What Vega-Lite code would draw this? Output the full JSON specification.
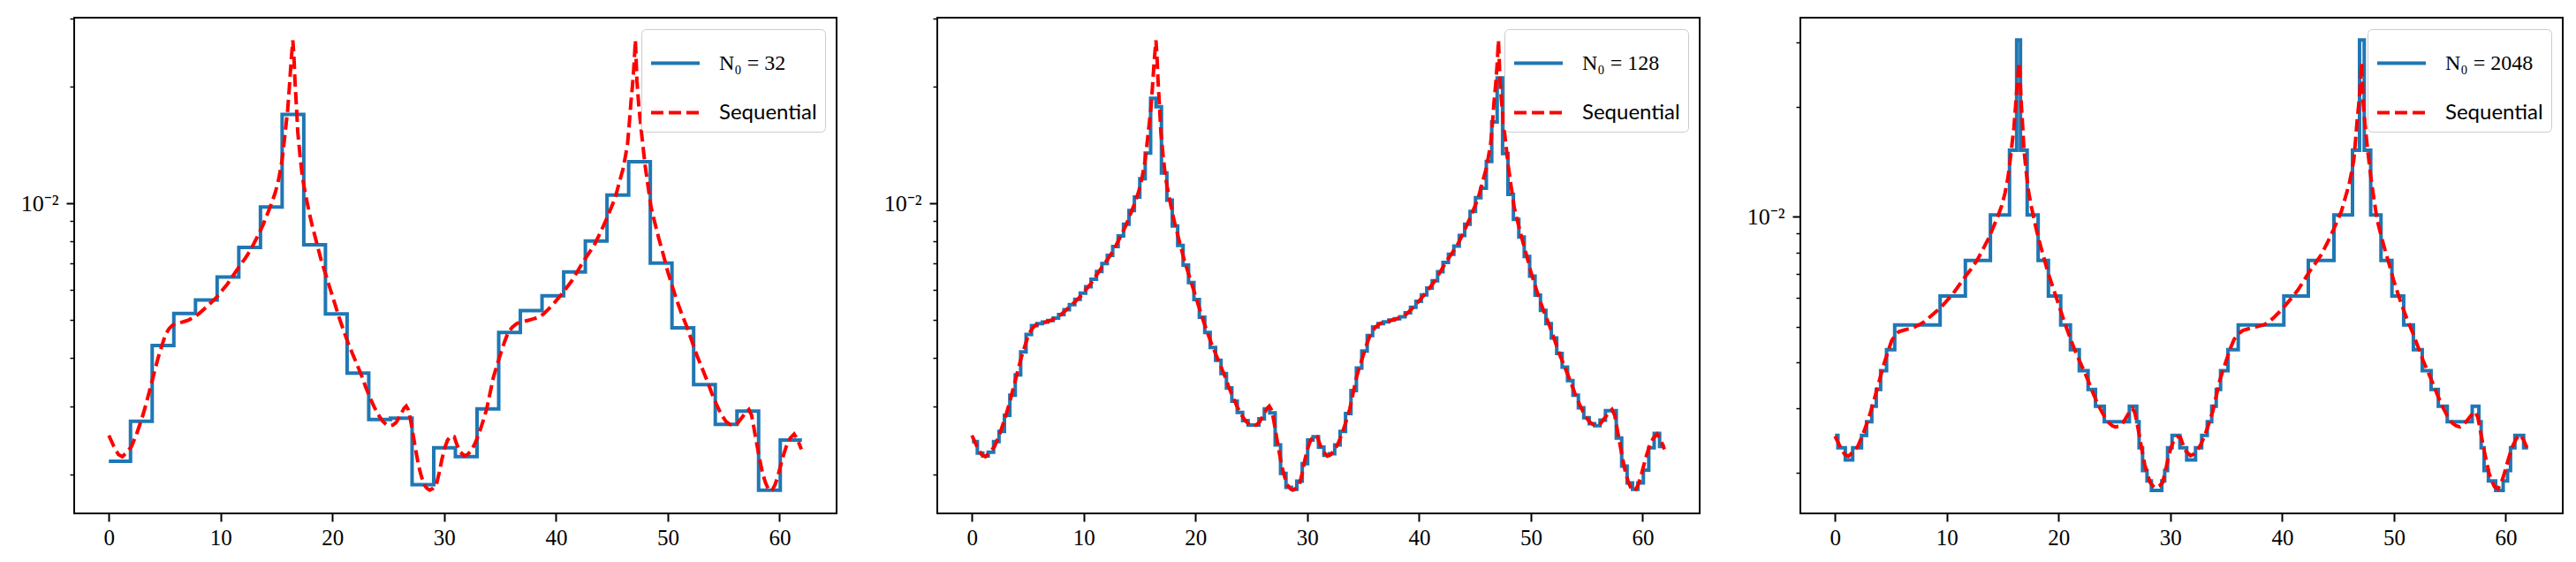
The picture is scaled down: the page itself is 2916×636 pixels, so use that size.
{
  "$schema": "https://vega.github.io/schema/vega-lite/v6.json",
  "background": "white",
  "padding": {"left": 22, "top": 19, "right": 5, "bottom": 5},
  "spacing": 114,
  "bounds": "flush",
  "config": {
    "view": {"stroke": "black", "strokeWidth": 2},
    "axis": {"domain": false, "grid": false, "labelFont": "Liberation Serif", "labelFontSize": 25, "labelColor": "black", "tickColor": "black", "title": null, "labelOverlap": false}
  },
  "datasets": {
    "seq": [
      {"x":0.0,"v":0.00252,"s":"Sequential"},{"x":0.45,"v":0.00236,"s":"Sequential"},{"x":0.85,"v":0.00225,"s":"Sequential"},{"x":1.2,"v":0.00222,"s":"Sequential"},{"x":1.6,"v":0.00228,"s":"Sequential"},{"x":2.03,"v":0.00236,"s":"Sequential"},{"x":2.5,"v":0.00255,"s":"Sequential"},{"x":2.96,"v":0.00279,"s":"Sequential"},{"x":3.35,"v":0.00305,"s":"Sequential"},{"x":3.74,"v":0.00337,"s":"Sequential"},{"x":4.1,"v":0.0037,"s":"Sequential"},{"x":4.4,"v":0.00399,"s":"Sequential"},{"x":4.75,"v":0.0043,"s":"Sequential"},{"x":5.06,"v":0.00459,"s":"Sequential"},{"x":5.4,"v":0.00476,"s":"Sequential"},{"x":5.72,"v":0.00486,"s":"Sequential"},{"x":6.2,"v":0.00491,"s":"Sequential"},{"x":6.64,"v":0.00495,"s":"Sequential"},{"x":7.1,"v":0.005,"s":"Sequential"},{"x":7.56,"v":0.00508,"s":"Sequential"},{"x":8.0,"v":0.00518,"s":"Sequential"},{"x":8.48,"v":0.00533,"s":"Sequential"},{"x":9.0,"v":0.0055,"s":"Sequential"},{"x":9.54,"v":0.00569,"s":"Sequential"},{"x":10.06,"v":0.00593,"s":"Sequential"},{"x":10.59,"v":0.00619,"s":"Sequential"},{"x":11.1,"v":0.00651,"s":"Sequential"},{"x":11.65,"v":0.00687,"s":"Sequential"},{"x":12.2,"v":0.00722,"s":"Sequential"},{"x":12.7,"v":0.00761,"s":"Sequential"},{"x":13.2,"v":0.00812,"s":"Sequential"},{"x":13.75,"v":0.00875,"s":"Sequential"},{"x":14.15,"v":0.00935,"s":"Sequential"},{"x":14.54,"v":0.00999,"s":"Sequential"},{"x":14.9,"v":0.0107,"s":"Sequential"},{"x":15.2,"v":0.01159,"s":"Sequential"},{"x":15.45,"v":0.0127,"s":"Sequential"},{"x":15.6,"v":0.01373,"s":"Sequential"},{"x":15.8,"v":0.0155,"s":"Sequential"},{"x":16.0,"v":0.0175,"s":"Sequential"},{"x":16.15,"v":0.02,"s":"Sequential"},{"x":16.3,"v":0.0232,"s":"Sequential"},{"x":16.46,"v":0.0264,"s":"Sequential"},{"x":16.56,"v":0.0238,"s":"Sequential"},{"x":16.65,"v":0.0207,"s":"Sequential"},{"x":16.78,"v":0.0178,"s":"Sequential"},{"x":16.9,"v":0.0153,"s":"Sequential"},{"x":17.1,"v":0.0133,"s":"Sequential"},{"x":17.3,"v":0.0118,"s":"Sequential"},{"x":17.5,"v":0.0109,"s":"Sequential"},{"x":17.7,"v":0.0102,"s":"Sequential"},{"x":17.95,"v":0.0094,"s":"Sequential"},{"x":18.2,"v":0.00875,"s":"Sequential"},{"x":18.6,"v":0.0079,"s":"Sequential"},{"x":19.0,"v":0.00713,"s":"Sequential"},{"x":19.4,"v":0.00655,"s":"Sequential"},{"x":19.8,"v":0.00602,"s":"Sequential"},{"x":20.2,"v":0.00553,"s":"Sequential"},{"x":20.6,"v":0.00508,"s":"Sequential"},{"x":21.0,"v":0.0047,"s":"Sequential"},{"x":21.4,"v":0.00437,"s":"Sequential"},{"x":21.8,"v":0.00409,"s":"Sequential"},{"x":22.2,"v":0.00384,"s":"Sequential"},{"x":22.6,"v":0.0036,"s":"Sequential"},{"x":22.96,"v":0.00337,"s":"Sequential"},{"x":23.35,"v":0.00316,"s":"Sequential"},{"x":23.75,"v":0.00298,"s":"Sequential"},{"x":24.1,"v":0.00285,"s":"Sequential"},{"x":24.5,"v":0.00274,"s":"Sequential"},{"x":24.8,"v":0.00269,"s":"Sequential"},{"x":25.07,"v":0.00267,"s":"Sequential"},{"x":25.4,"v":0.00268,"s":"Sequential"},{"x":25.7,"v":0.00272,"s":"Sequential"},{"x":26.1,"v":0.00285,"s":"Sequential"},{"x":26.4,"v":0.00296,"s":"Sequential"},{"x":26.6,"v":0.003,"s":"Sequential"},{"x":26.8,"v":0.00293,"s":"Sequential"},{"x":26.95,"v":0.0028,"s":"Sequential"},{"x":27.1,"v":0.00265,"s":"Sequential"},{"x":27.3,"v":0.00245,"s":"Sequential"},{"x":27.5,"v":0.00227,"s":"Sequential"},{"x":27.7,"v":0.00211,"s":"Sequential"},{"x":27.95,"v":0.00198,"s":"Sequential"},{"x":28.2,"v":0.00188,"s":"Sequential"},{"x":28.45,"v":0.00184,"s":"Sequential"},{"x":28.7,"v":0.00182,"s":"Sequential"},{"x":29.0,"v":0.00184,"s":"Sequential"},{"x":29.3,"v":0.00188,"s":"Sequential"},{"x":29.55,"v":0.00202,"s":"Sequential"},{"x":29.8,"v":0.00219,"s":"Sequential"},{"x":30.05,"v":0.00234,"s":"Sequential"},{"x":30.3,"v":0.00245,"s":"Sequential"},{"x":30.6,"v":0.00251,"s":"Sequential"},{"x":30.9,"v":0.0025,"s":"Sequential"},{"x":31.1,"v":0.0024,"s":"Sequential"},{"x":31.4,"v":0.00229,"s":"Sequential"},{"x":31.8,"v":0.00223,"s":"Sequential"},{"x":32.1,"v":0.00225,"s":"Sequential"},{"x":32.4,"v":0.0023,"s":"Sequential"},{"x":32.75,"v":0.0024,"s":"Sequential"},{"x":33.1,"v":0.00254,"s":"Sequential"},{"x":33.45,"v":0.00273,"s":"Sequential"},{"x":33.8,"v":0.00295,"s":"Sequential"},{"x":34.1,"v":0.00324,"s":"Sequential"},{"x":34.4,"v":0.00356,"s":"Sequential"},{"x":34.75,"v":0.00385,"s":"Sequential"},{"x":35.1,"v":0.00414,"s":"Sequential"},{"x":35.4,"v":0.0044,"s":"Sequential"},{"x":35.7,"v":0.00463,"s":"Sequential"},{"x":36.1,"v":0.0048,"s":"Sequential"},{"x":36.5,"v":0.0049,"s":"Sequential"},{"x":37.0,"v":0.00495,"s":"Sequential"},{"x":37.45,"v":0.00499,"s":"Sequential"},{"x":37.9,"v":0.00503,"s":"Sequential"},{"x":38.4,"v":0.00508,"s":"Sequential"},{"x":38.85,"v":0.00518,"s":"Sequential"},{"x":39.3,"v":0.00533,"s":"Sequential"},{"x":39.8,"v":0.00552,"s":"Sequential"},{"x":40.3,"v":0.00574,"s":"Sequential"},{"x":40.85,"v":0.00601,"s":"Sequential"},{"x":41.4,"v":0.00631,"s":"Sequential"},{"x":41.9,"v":0.00667,"s":"Sequential"},{"x":42.4,"v":0.00706,"s":"Sequential"},{"x":42.95,"v":0.00745,"s":"Sequential"},{"x":43.5,"v":0.00789,"s":"Sequential"},{"x":44.0,"v":0.00845,"s":"Sequential"},{"x":44.5,"v":0.0091,"s":"Sequential"},{"x":44.9,"v":0.0097,"s":"Sequential"},{"x":45.3,"v":0.01036,"s":"Sequential"},{"x":45.65,"v":0.0113,"s":"Sequential"},{"x":45.99,"v":0.01227,"s":"Sequential"},{"x":46.2,"v":0.0132,"s":"Sequential"},{"x":46.4,"v":0.01425,"s":"Sequential"},{"x":46.55,"v":0.016,"s":"Sequential"},{"x":46.7,"v":0.0182,"s":"Sequential"},{"x":46.85,"v":0.0203,"s":"Sequential"},{"x":46.98,"v":0.0228,"s":"Sequential"},{"x":47.1,"v":0.0264,"s":"Sequential"},{"x":47.17,"v":0.0235,"s":"Sequential"},{"x":47.24,"v":0.0207,"s":"Sequential"},{"x":47.4,"v":0.018,"s":"Sequential"},{"x":47.6,"v":0.0157,"s":"Sequential"},{"x":47.8,"v":0.0139,"s":"Sequential"},{"x":47.98,"v":0.0125,"s":"Sequential"},{"x":48.25,"v":0.011,"s":"Sequential"},{"x":48.5,"v":0.0098,"s":"Sequential"},{"x":48.85,"v":0.0089,"s":"Sequential"},{"x":49.2,"v":0.00812,"s":"Sequential"},{"x":49.6,"v":0.00738,"s":"Sequential"},{"x":49.96,"v":0.00673,"s":"Sequential"},{"x":50.35,"v":0.00618,"s":"Sequential"},{"x":50.75,"v":0.00569,"s":"Sequential"},{"x":51.2,"v":0.00523,"s":"Sequential"},{"x":51.7,"v":0.00481,"s":"Sequential"},{"x":52.15,"v":0.00442,"s":"Sequential"},{"x":52.6,"v":0.00406,"s":"Sequential"},{"x":53.05,"v":0.00377,"s":"Sequential"},{"x":53.5,"v":0.0035,"s":"Sequential"},{"x":53.95,"v":0.00323,"s":"Sequential"},{"x":54.4,"v":0.00301,"s":"Sequential"},{"x":54.8,"v":0.00285,"s":"Sequential"},{"x":55.2,"v":0.00274,"s":"Sequential"},{"x":55.55,"v":0.00269,"s":"Sequential"},{"x":55.9,"v":0.00267,"s":"Sequential"},{"x":56.2,"v":0.0027,"s":"Sequential"},{"x":56.5,"v":0.00277,"s":"Sequential"},{"x":56.9,"v":0.00287,"s":"Sequential"},{"x":57.25,"v":0.00294,"s":"Sequential"},{"x":57.5,"v":0.00284,"s":"Sequential"},{"x":57.7,"v":0.00264,"s":"Sequential"},{"x":57.9,"v":0.00245,"s":"Sequential"},{"x":58.1,"v":0.00228,"s":"Sequential"},{"x":58.3,"v":0.00213,"s":"Sequential"},{"x":58.5,"v":0.002,"s":"Sequential"},{"x":58.75,"v":0.0019,"s":"Sequential"},{"x":59.0,"v":0.00183,"s":"Sequential"},{"x":59.3,"v":0.00181,"s":"Sequential"},{"x":59.6,"v":0.00188,"s":"Sequential"},{"x":59.85,"v":0.00198,"s":"Sequential"},{"x":60.1,"v":0.00211,"s":"Sequential"},{"x":60.35,"v":0.00224,"s":"Sequential"},{"x":60.6,"v":0.00236,"s":"Sequential"},{"x":60.95,"v":0.00248,"s":"Sequential"},{"x":61.3,"v":0.00254,"s":"Sequential"},{"x":61.6,"v":0.00246,"s":"Sequential"},{"x":61.95,"v":0.00232,"s":"Sequential"}
    ],
    "b32": [
      {"x":0,"v":0.00216,"s":"N₀ = 32"},{"x":1.9375,"v":0.00274,"s":"N₀ = 32"},{"x":3.875,"v":0.0043,"s":"N₀ = 32"},{"x":5.8125,"v":0.0052,"s":"N₀ = 32"},{"x":7.75,"v":0.00564,"s":"N₀ = 32"},{"x":9.6875,"v":0.00646,"s":"N₀ = 32"},{"x":11.625,"v":0.00771,"s":"N₀ = 32"},{"x":13.5625,"v":0.0098,"s":"N₀ = 32"},{"x":15.5,"v":0.017,"s":"N₀ = 32"},{"x":17.4375,"v":0.00783,"s":"N₀ = 32"},{"x":19.375,"v":0.00519,"s":"N₀ = 32"},{"x":21.3125,"v":0.00365,"s":"N₀ = 32"},{"x":23.25,"v":0.00277,"s":"N₀ = 32"},{"x":25.1875,"v":0.00279,"s":"N₀ = 32"},{"x":27.125,"v":0.00188,"s":"N₀ = 32"},{"x":29.0625,"v":0.00234,"s":"N₀ = 32"},{"x":31.0,"v":0.00222,"s":"N₀ = 32"},{"x":32.9375,"v":0.00295,"s":"N₀ = 32"},{"x":34.875,"v":0.00465,"s":"N₀ = 32"},{"x":36.8125,"v":0.00529,"s":"N₀ = 32"},{"x":38.75,"v":0.00578,"s":"N₀ = 32"},{"x":40.6875,"v":0.00666,"s":"N₀ = 32"},{"x":42.625,"v":0.008,"s":"N₀ = 32"},{"x":44.5625,"v":0.01052,"s":"N₀ = 32"},{"x":46.5,"v":0.01282,"s":"N₀ = 32"},{"x":48.4375,"v":0.00702,"s":"N₀ = 32"},{"x":50.375,"v":0.00478,"s":"N₀ = 32"},{"x":52.3125,"v":0.00341,"s":"N₀ = 32"},{"x":54.25,"v":0.00269,"s":"N₀ = 32"},{"x":56.1875,"v":0.00291,"s":"N₀ = 32"},{"x":58.125,"v":0.00182,"s":"N₀ = 32"},{"x":60.0625,"v":0.00245,"s":"N₀ = 32"},{"x":62,"v":0.00245,"s":"N₀ = 32"}
    ],
    "b128": [
      {"x":0,"v":0.00243,"s":"N₀ = 128"},{"x":0.4844,"v":0.00227,"s":"N₀ = 128"},{"x":0.9688,"v":0.00223,"s":"N₀ = 128"},{"x":1.4531,"v":0.00228,"s":"N₀ = 128"},{"x":1.9375,"v":0.00243,"s":"N₀ = 128"},{"x":2.4219,"v":0.00258,"s":"N₀ = 128"},{"x":2.9063,"v":0.00284,"s":"N₀ = 128"},{"x":3.3906,"v":0.0032,"s":"N₀ = 128"},{"x":3.875,"v":0.00361,"s":"N₀ = 128"},{"x":4.3594,"v":0.00414,"s":"N₀ = 128"},{"x":4.8438,"v":0.00459,"s":"N₀ = 128"},{"x":5.3281,"v":0.00484,"s":"N₀ = 128"},{"x":5.8125,"v":0.0049,"s":"N₀ = 128"},{"x":6.2969,"v":0.00494,"s":"N₀ = 128"},{"x":6.7813,"v":0.00499,"s":"N₀ = 128"},{"x":7.2656,"v":0.00506,"s":"N₀ = 128"},{"x":7.75,"v":0.00517,"s":"N₀ = 128"},{"x":8.2344,"v":0.00532,"s":"N₀ = 128"},{"x":8.7188,"v":0.00548,"s":"N₀ = 128"},{"x":9.2031,"v":0.00566,"s":"N₀ = 128"},{"x":9.6875,"v":0.00587,"s":"N₀ = 128"},{"x":10.1719,"v":0.0061,"s":"N₀ = 128"},{"x":10.6563,"v":0.00638,"s":"N₀ = 128"},{"x":11.1406,"v":0.00668,"s":"N₀ = 128"},{"x":11.625,"v":0.007,"s":"N₀ = 128"},{"x":12.1094,"v":0.00735,"s":"N₀ = 128"},{"x":12.5938,"v":0.00775,"s":"N₀ = 128"},{"x":13.0781,"v":0.00825,"s":"N₀ = 128"},{"x":13.5625,"v":0.00885,"s":"N₀ = 128"},{"x":14.0469,"v":0.0096,"s":"N₀ = 128"},{"x":14.5313,"v":0.0104,"s":"N₀ = 128"},{"x":15.0156,"v":0.0116,"s":"N₀ = 128"},{"x":15.5,"v":0.0135,"s":"N₀ = 128"},{"x":15.9844,"v":0.0187,"s":"N₀ = 128"},{"x":16.4688,"v":0.0178,"s":"N₀ = 128"},{"x":16.9531,"v":0.012,"s":"N₀ = 128"},{"x":17.4375,"v":0.0102,"s":"N₀ = 128"},{"x":17.9219,"v":0.00875,"s":"N₀ = 128"},{"x":18.4063,"v":0.0078,"s":"N₀ = 128"},{"x":18.8906,"v":0.00694,"s":"N₀ = 128"},{"x":19.375,"v":0.00625,"s":"N₀ = 128"},{"x":19.8594,"v":0.00565,"s":"N₀ = 128"},{"x":20.3438,"v":0.00509,"s":"N₀ = 128"},{"x":20.8281,"v":0.00465,"s":"N₀ = 128"},{"x":21.3125,"v":0.00425,"s":"N₀ = 128"},{"x":21.7969,"v":0.00394,"s":"N₀ = 128"},{"x":22.2813,"v":0.00364,"s":"N₀ = 128"},{"x":22.7656,"v":0.00334,"s":"N₀ = 128"},{"x":23.25,"v":0.00309,"s":"N₀ = 128"},{"x":23.7344,"v":0.00289,"s":"N₀ = 128"},{"x":24.2188,"v":0.00275,"s":"N₀ = 128"},{"x":24.7031,"v":0.00268,"s":"N₀ = 128"},{"x":25.1875,"v":0.00268,"s":"N₀ = 128"},{"x":25.6719,"v":0.00278,"s":"N₀ = 128"},{"x":26.1563,"v":0.00295,"s":"N₀ = 128"},{"x":26.6406,"v":0.00288,"s":"N₀ = 128"},{"x":27.125,"v":0.00238,"s":"N₀ = 128"},{"x":27.6094,"v":0.00201,"s":"N₀ = 128"},{"x":28.0938,"v":0.00185,"s":"N₀ = 128"},{"x":28.5781,"v":0.00183,"s":"N₀ = 128"},{"x":29.0625,"v":0.00192,"s":"N₀ = 128"},{"x":29.5469,"v":0.00213,"s":"N₀ = 128"},{"x":30.0313,"v":0.00245,"s":"N₀ = 128"},{"x":30.5156,"v":0.0025,"s":"N₀ = 128"},{"x":31.0,"v":0.00235,"s":"N₀ = 128"},{"x":31.4844,"v":0.00224,"s":"N₀ = 128"},{"x":31.9688,"v":0.00226,"s":"N₀ = 128"},{"x":32.4531,"v":0.00238,"s":"N₀ = 128"},{"x":32.9375,"v":0.00258,"s":"N₀ = 128"},{"x":33.4219,"v":0.00287,"s":"N₀ = 128"},{"x":33.9063,"v":0.00329,"s":"N₀ = 128"},{"x":34.3906,"v":0.00376,"s":"N₀ = 128"},{"x":34.875,"v":0.00416,"s":"N₀ = 128"},{"x":35.3594,"v":0.00456,"s":"N₀ = 128"},{"x":35.8438,"v":0.0048,"s":"N₀ = 128"},{"x":36.3281,"v":0.0049,"s":"N₀ = 128"},{"x":36.8125,"v":0.00495,"s":"N₀ = 128"},{"x":37.2969,"v":0.005,"s":"N₀ = 128"},{"x":37.7813,"v":0.00504,"s":"N₀ = 128"},{"x":38.2656,"v":0.0051,"s":"N₀ = 128"},{"x":38.75,"v":0.00522,"s":"N₀ = 128"},{"x":39.2344,"v":0.0054,"s":"N₀ = 128"},{"x":39.7188,"v":0.00559,"s":"N₀ = 128"},{"x":40.2031,"v":0.00581,"s":"N₀ = 128"},{"x":40.6875,"v":0.00605,"s":"N₀ = 128"},{"x":41.1719,"v":0.00632,"s":"N₀ = 128"},{"x":41.6563,"v":0.00667,"s":"N₀ = 128"},{"x":42.1406,"v":0.00705,"s":"N₀ = 128"},{"x":42.625,"v":0.0074,"s":"N₀ = 128"},{"x":43.1094,"v":0.00777,"s":"N₀ = 128"},{"x":43.5938,"v":0.00827,"s":"N₀ = 128"},{"x":44.0781,"v":0.00885,"s":"N₀ = 128"},{"x":44.5625,"v":0.00955,"s":"N₀ = 128"},{"x":45.0469,"v":0.01035,"s":"N₀ = 128"},{"x":45.5313,"v":0.01096,"s":"N₀ = 128"},{"x":46.0156,"v":0.01285,"s":"N₀ = 128"},{"x":46.5,"v":0.01625,"s":"N₀ = 128"},{"x":46.9844,"v":0.0211,"s":"N₀ = 128"},{"x":47.4688,"v":0.01346,"s":"N₀ = 128"},{"x":47.9531,"v":0.01056,"s":"N₀ = 128"},{"x":48.4375,"v":0.0091,"s":"N₀ = 128"},{"x":48.9219,"v":0.0082,"s":"N₀ = 128"},{"x":49.4063,"v":0.0073,"s":"N₀ = 128"},{"x":49.8906,"v":0.0065,"s":"N₀ = 128"},{"x":50.375,"v":0.0058,"s":"N₀ = 128"},{"x":50.8594,"v":0.0053,"s":"N₀ = 128"},{"x":51.3438,"v":0.0049,"s":"N₀ = 128"},{"x":51.8281,"v":0.0045,"s":"N₀ = 128"},{"x":52.3125,"v":0.0041,"s":"N₀ = 128"},{"x":52.7969,"v":0.00378,"s":"N₀ = 128"},{"x":53.2813,"v":0.00349,"s":"N₀ = 128"},{"x":53.7656,"v":0.0032,"s":"N₀ = 128"},{"x":54.25,"v":0.00297,"s":"N₀ = 128"},{"x":54.7344,"v":0.0028,"s":"N₀ = 128"},{"x":55.2188,"v":0.0027,"s":"N₀ = 128"},{"x":55.7031,"v":0.00267,"s":"N₀ = 128"},{"x":56.1875,"v":0.00276,"s":"N₀ = 128"},{"x":56.6719,"v":0.00292,"s":"N₀ = 128"},{"x":57.1563,"v":0.00292,"s":"N₀ = 128"},{"x":57.6406,"v":0.00248,"s":"N₀ = 128"},{"x":58.125,"v":0.0021,"s":"N₀ = 128"},{"x":58.6094,"v":0.0019,"s":"N₀ = 128"},{"x":59.0938,"v":0.00183,"s":"N₀ = 128"},{"x":59.5781,"v":0.0019,"s":"N₀ = 128"},{"x":60.0625,"v":0.00205,"s":"N₀ = 128"},{"x":60.5469,"v":0.00234,"s":"N₀ = 128"},{"x":61.0313,"v":0.00255,"s":"N₀ = 128"},{"x":61.5156,"v":0.00236,"s":"N₀ = 128"},{"x":62,"v":0.00236,"s":"N₀ = 128"}
    ],
    "b2048": [
      {"x":0,"v":0.00253,"s":"N₀ = 2048"},{"x":0.26,"v":0.00234,"s":"N₀ = 2048"},{"x":0.92,"v":0.00217,"s":"N₀ = 2048"},{"x":1.58,"v":0.00234,"s":"N₀ = 2048"},{"x":2.37,"v":0.00253,"s":"N₀ = 2048"},{"x":2.82,"v":0.00276,"s":"N₀ = 2048"},{"x":3.29,"v":0.00304,"s":"N₀ = 2048"},{"x":3.69,"v":0.00338,"s":"N₀ = 2048"},{"x":4.08,"v":0.0038,"s":"N₀ = 2048"},{"x":4.61,"v":0.00434,"s":"N₀ = 2048"},{"x":5.34,"v":0.00507,"s":"N₀ = 2048"},{"x":9.4,"v":0.00608,"s":"N₀ = 2048"},{"x":11.66,"v":0.0076,"s":"N₀ = 2048"},{"x":13.9,"v":0.01013,"s":"N₀ = 2048"},{"x":15.61,"v":0.0152,"s":"N₀ = 2048"},{"x":16.25,"v":0.0304,"s":"N₀ = 2048"},{"x":16.59,"v":0.0152,"s":"N₀ = 2048"},{"x":17.19,"v":0.01013,"s":"N₀ = 2048"},{"x":18.17,"v":0.0076,"s":"N₀ = 2048"},{"x":19.09,"v":0.00608,"s":"N₀ = 2048"},{"x":20.19,"v":0.00507,"s":"N₀ = 2048"},{"x":21.06,"v":0.00434,"s":"N₀ = 2048"},{"x":21.85,"v":0.0038,"s":"N₀ = 2048"},{"x":22.64,"v":0.00338,"s":"N₀ = 2048"},{"x":23.3,"v":0.00304,"s":"N₀ = 2048"},{"x":24.09,"v":0.00276,"s":"N₀ = 2048"},{"x":26.33,"v":0.00304,"s":"N₀ = 2048"},{"x":26.99,"v":0.00276,"s":"N₀ = 2048"},{"x":27.2,"v":0.00234,"s":"N₀ = 2048"},{"x":27.51,"v":0.00203,"s":"N₀ = 2048"},{"x":27.91,"v":0.0019,"s":"N₀ = 2048"},{"x":28.3,"v":0.00179,"s":"N₀ = 2048"},{"x":29.23,"v":0.0019,"s":"N₀ = 2048"},{"x":29.49,"v":0.00203,"s":"N₀ = 2048"},{"x":29.75,"v":0.00234,"s":"N₀ = 2048"},{"x":30.15,"v":0.00253,"s":"N₀ = 2048"},{"x":30.85,"v":0.00234,"s":"N₀ = 2048"},{"x":31.46,"v":0.00217,"s":"N₀ = 2048"},{"x":32.25,"v":0.00234,"s":"N₀ = 2048"},{"x":32.8,"v":0.00253,"s":"N₀ = 2048"},{"x":33.3,"v":0.00276,"s":"N₀ = 2048"},{"x":33.7,"v":0.00304,"s":"N₀ = 2048"},{"x":34.1,"v":0.00338,"s":"N₀ = 2048"},{"x":34.49,"v":0.0038,"s":"N₀ = 2048"},{"x":35.15,"v":0.00434,"s":"N₀ = 2048"},{"x":36.07,"v":0.00507,"s":"N₀ = 2048"},{"x":40.15,"v":0.00608,"s":"N₀ = 2048"},{"x":42.34,"v":0.0076,"s":"N₀ = 2048"},{"x":44.63,"v":0.01013,"s":"N₀ = 2048"},{"x":46.29,"v":0.0152,"s":"N₀ = 2048"},{"x":46.92,"v":0.0304,"s":"N₀ = 2048"},{"x":47.34,"v":0.0152,"s":"N₀ = 2048"},{"x":47.92,"v":0.01013,"s":"N₀ = 2048"},{"x":48.84,"v":0.0076,"s":"N₀ = 2048"},{"x":49.82,"v":0.00608,"s":"N₀ = 2048"},{"x":50.87,"v":0.00507,"s":"N₀ = 2048"},{"x":51.74,"v":0.00434,"s":"N₀ = 2048"},{"x":52.53,"v":0.0038,"s":"N₀ = 2048"},{"x":53.32,"v":0.00338,"s":"N₀ = 2048"},{"x":53.97,"v":0.00304,"s":"N₀ = 2048"},{"x":54.77,"v":0.00276,"s":"N₀ = 2048"},{"x":57.0,"v":0.00304,"s":"N₀ = 2048"},{"x":57.6,"v":0.00276,"s":"N₀ = 2048"},{"x":57.8,"v":0.00234,"s":"N₀ = 2048"},{"x":58.06,"v":0.00203,"s":"N₀ = 2048"},{"x":58.45,"v":0.0019,"s":"N₀ = 2048"},{"x":59.1,"v":0.00179,"s":"N₀ = 2048"},{"x":59.77,"v":0.0019,"s":"N₀ = 2048"},{"x":60.16,"v":0.00203,"s":"N₀ = 2048"},{"x":60.43,"v":0.00234,"s":"N₀ = 2048"},{"x":60.82,"v":0.00253,"s":"N₀ = 2048"},{"x":61.6,"v":0.00234,"s":"N₀ = 2048"},{"x":62,"v":0.00234,"s":"N₀ = 2048"}
    ]
  },
  "hconcat": [
    {
      "width": 863, "height": 561,
      "encoding": {
        "x": {"field": "x", "type": "quantitative", "scale": {"domain": [-3.1, 65.1], "nice": false, "zero": false}, "axis": {"values": [0,10,20,30,40,50,60], "tickSize": 9, "tickWidth": 2, "labelPadding": 6}},
        "y": {"field": "v", "type": "quantitative", "scale": {"type": "log", "domain": [0.001585, 0.0302], "nice": false}, "axis": {"values": [0.002,0.003,0.004,0.005,0.006,0.007,0.008,0.009,0.01,0.02,0.03], "labelExpr": "datum.value == 0.01 ? '10⁻²' : ''", "labelFontSize": {"condition": {"test": "datum.value == 0.01", "value": 26}, "value": 0}, "tickSize": {"condition": {"test": "datum.value == 0.01", "value": 9}, "value": 5}, "tickWidth": {"condition": {"test": "datum.value == 0.01", "value": 2}, "value": 1.5}, "labelPadding": 9}},
        "color": {"field": "s", "type": "nominal", "scale": {"domain": ["N₀ = 32", "Sequential"], "range": ["#1f77b4", "#ff0000"]}, "legend": {"orient": "top-right", "offset": 13, "title": null, "padding": 9, "strokeColor": "#cccccc", "fillColor": "white", "cornerRadius": 5, "labelFontSize": 24, "labelFont": {"expr": "datum.label == 'Sequential' ? 'Lato' : 'Liberation Serif'"}, "labelColor": "black", "symbolType": "stroke", "symbolSize": 3025, "symbolStrokeWidth": 4, "rowPadding": 14, "labelOffset": 20}},
        "strokeDash": {"field": "s", "type": "nominal", "scale": {"domain": ["N₀ = 32", "Sequential"], "range": [[1, 0], [14, 6]]}, "legend": {"orient": "top-right", "offset": 13, "title": null, "padding": 9, "strokeColor": "#cccccc", "fillColor": "white", "cornerRadius": 5, "labelFontSize": 24, "labelFont": {"expr": "datum.label == 'Sequential' ? 'Lato' : 'Liberation Serif'"}, "labelColor": "black", "symbolType": "stroke", "symbolSize": 3025, "symbolStrokeWidth": 4, "rowPadding": 14, "labelOffset": 20}}
      },
      "layer": [
        {"data": {"name": "b32"}, "mark": {"type": "line", "interpolate": "step-after", "strokeWidth": 4}},
        {"data": {"name": "seq"}, "mark": {"type": "line", "strokeWidth": 4}}
      ]
    },
    {
      "width": 863, "height": 561,
      "encoding": {
        "x": {"field": "x", "type": "quantitative", "scale": {"domain": [-3.1, 65.1], "nice": false, "zero": false}, "axis": {"values": [0,10,20,30,40,50,60], "tickSize": 9, "tickWidth": 2, "labelPadding": 6}},
        "y": {"field": "v", "type": "quantitative", "scale": {"type": "log", "domain": [0.001585, 0.0302], "nice": false}, "axis": {"values": [0.002,0.003,0.004,0.005,0.006,0.007,0.008,0.009,0.01,0.02,0.03], "labelExpr": "datum.value == 0.01 ? '10⁻²' : ''", "labelFontSize": {"condition": {"test": "datum.value == 0.01", "value": 26}, "value": 0}, "tickSize": {"condition": {"test": "datum.value == 0.01", "value": 9}, "value": 5}, "tickWidth": {"condition": {"test": "datum.value == 0.01", "value": 2}, "value": 1.5}, "labelPadding": 9}},
        "color": {"field": "s", "type": "nominal", "scale": {"domain": ["N₀ = 128", "Sequential"], "range": ["#1f77b4", "#ff0000"]}, "legend": {"orient": "top-right", "offset": 13, "title": null, "padding": 9, "strokeColor": "#cccccc", "fillColor": "white", "cornerRadius": 5, "labelFontSize": 24, "labelFont": {"expr": "datum.label == 'Sequential' ? 'Lato' : 'Liberation Serif'"}, "labelColor": "black", "symbolType": "stroke", "symbolSize": 3025, "symbolStrokeWidth": 4, "rowPadding": 14, "labelOffset": 20}},
        "strokeDash": {"field": "s", "type": "nominal", "scale": {"domain": ["N₀ = 128", "Sequential"], "range": [[1, 0], [14, 6]]}, "legend": {"orient": "top-right", "offset": 13, "title": null, "padding": 9, "strokeColor": "#cccccc", "fillColor": "white", "cornerRadius": 5, "labelFontSize": 24, "labelFont": {"expr": "datum.label == 'Sequential' ? 'Lato' : 'Liberation Serif'"}, "labelColor": "black", "symbolType": "stroke", "symbolSize": 3025, "symbolStrokeWidth": 4, "rowPadding": 14, "labelOffset": 20}}
      },
      "layer": [
        {"data": {"name": "b128"}, "mark": {"type": "line", "interpolate": "step-after", "strokeWidth": 4}},
        {"data": {"name": "seq"}, "mark": {"type": "line", "strokeWidth": 4}}
      ]
    },
    {
      "width": 863, "height": 561,
      "encoding": {
        "x": {"field": "x", "type": "quantitative", "scale": {"domain": [-3.1, 65.1], "nice": false, "zero": false}, "axis": {"values": [0,10,20,30,40,50,60], "tickSize": 9, "tickWidth": 2, "labelPadding": 6}},
        "y": {"field": "v", "type": "quantitative", "scale": {"type": "log", "domain": [0.00155, 0.035], "nice": false}, "axis": {"values": [0.002,0.003,0.004,0.005,0.006,0.007,0.008,0.009,0.01,0.02,0.03], "labelExpr": "datum.value == 0.01 ? '10⁻²' : ''", "labelFontSize": {"condition": {"test": "datum.value == 0.01", "value": 26}, "value": 0}, "tickSize": {"condition": {"test": "datum.value == 0.01", "value": 9}, "value": 5}, "tickWidth": {"condition": {"test": "datum.value == 0.01", "value": 2}, "value": 1.5}, "labelPadding": 9}},
        "color": {"field": "s", "type": "nominal", "scale": {"domain": ["N₀ = 2048", "Sequential"], "range": ["#1f77b4", "#ff0000"]}, "legend": {"orient": "top-right", "offset": 13, "title": null, "padding": 9, "strokeColor": "#cccccc", "fillColor": "white", "cornerRadius": 5, "labelFontSize": 24, "labelFont": {"expr": "datum.label == 'Sequential' ? 'Lato' : 'Liberation Serif'"}, "labelColor": "black", "symbolType": "stroke", "symbolSize": 3025, "symbolStrokeWidth": 4, "rowPadding": 14, "labelOffset": 20}},
        "strokeDash": {"field": "s", "type": "nominal", "scale": {"domain": ["N₀ = 2048", "Sequential"], "range": [[1, 0], [14, 6]]}, "legend": {"orient": "top-right", "offset": 13, "title": null, "padding": 9, "strokeColor": "#cccccc", "fillColor": "white", "cornerRadius": 5, "labelFontSize": 24, "labelFont": {"expr": "datum.label == 'Sequential' ? 'Lato' : 'Liberation Serif'"}, "labelColor": "black", "symbolType": "stroke", "symbolSize": 3025, "symbolStrokeWidth": 4, "rowPadding": 14, "labelOffset": 20}}
      },
      "layer": [
        {"data": {"name": "b2048"}, "mark": {"type": "line", "interpolate": "step-after", "strokeWidth": 4}},
        {"data": {"name": "seq"}, "mark": {"type": "line", "strokeWidth": 4}}
      ]
    }
  ],
  "resolve": {
    "scale": {"x": "independent", "y": "independent", "color": "independent", "strokeDash": "independent"},
    "legend": {"color": "independent", "strokeDash": "independent"}
  }
}
